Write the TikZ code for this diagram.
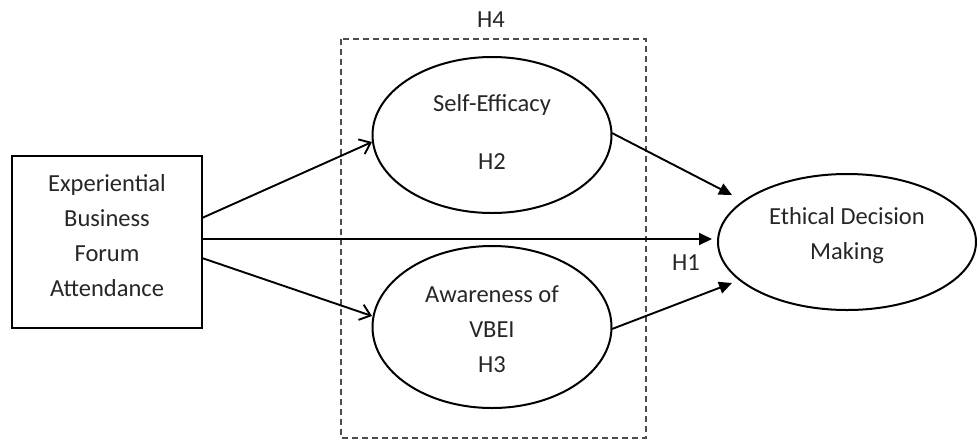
\documentclass[tikz,border=0pt]{standalone}
\usepackage{fontspec}
\setmainfont{Carlito}
\usetikzlibrary{arrows.meta,shapes.geometric}
\begin{document}
\begin{tikzpicture}[x=1pt,y=-1pt,
  every node/.style={font=\fontsize{24.5}{35}\selectfont, align=center, text=black!85},
  ell/.style={draw, line width=2pt, ellipse, inner sep=0pt},
  openarr/.style={line width=1.9pt, -{Straight Barb[length=10pt,width=16pt,line width=1.9pt]}},
  fillarr/.style={line width=1.9pt, -{Triangle[length=13pt,width=12pt]}}]
\useasboundingbox (0,0) rectangle (978,440);
\draw[line width=1.2pt, dash pattern=on 6pt off 4pt, black!70] (341,39) rectangle (646,438);
\node (h4) at (491,20) {H4};
\node[draw, line width=2pt, minimum width=190pt, minimum height=172pt] (box) at (107,242) {};
\node (boxt) at (107,236) {Experiential\\Business\\Forum\\Attendance};
\node[ell, minimum width=239pt, minimum height=156pt] (se) at (492,135) {};
\node (set) at (492,105) {Self-Efficacy};
\node (h2) at (492,162) {H2};
\node[ell, minimum width=239pt, minimum height=162pt] (aw) at (492,327) {};
\node (awt) at (492,329) {Awareness of\\VBEI\\H3};
\node[ell, minimum width=258pt, minimum height=136pt] (ed) at (847,242) {};
\node (edt) at (847,236) {Ethical Decision\\Making};
\node (h1) at (686,263) {H1};
\coordinate (b1) at (202,218);
\coordinate (b2) at (202,239);
\coordinate (b3) at (202,258);
\coordinate (t1) at (372,142);
\coordinate (t3) at (372,316);
\coordinate (h1tip) at (712,239);
\coordinate (s1) at (612,133);
\coordinate (s2) at (612,329);
\coordinate (e1) at (732,195);
\coordinate (e2) at (732,283);
\draw[openarr] (b1) -- (t1);
\draw[openarr] (b3) -- (t3);
\draw[fillarr] (b2) -- (h1tip);
\draw[fillarr] (s1) -- (e1);
\draw[fillarr] (s2) -- (e2);
\end{tikzpicture}
\end{document}
